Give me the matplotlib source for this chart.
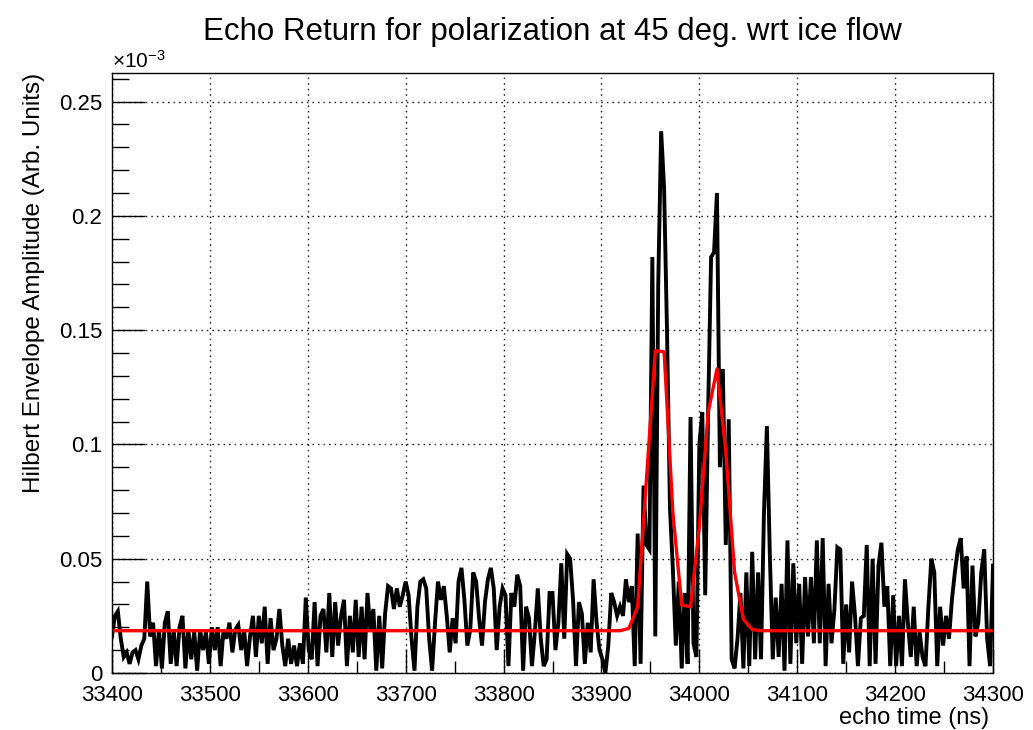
import numpy as np
import matplotlib.pyplot as plt
from matplotlib.ticker import MultipleLocator, FuncFormatter

plt.rcParams['font.family'] = ['Liberation Sans', 'DejaVu Sans']
plt.rcParams['mathtext.fontset'] = 'custom'
plt.rcParams['mathtext.rm'] = 'Liberation Sans'

# Hilbert envelope samples (units of 1e-3), one every 3 ns from 33400 ns
t_start = 33400
t_step = 3
amp = [
    0.016, 0.025, 0.027, 0.015, 0.007, 0.009, 0.004, 0.009, 0.010, 0.006,
    0.012, 0.015, 0.040, 0.016, 0.022, 0.003, 0.019, 0.002, 0.022, 0.027,
    0.004, 0.019, 0.003, 0.020, 0.025, 0.002, 0.019, 0.006, 0.018, 0.001,
    0.019, 0.010, 0.018, 0.004, 0.020, 0.010, 0.020, 0.003, 0.019, 0.015,
    0.022, 0.009, 0.019, 0.021, 0.010, 0.019, 0.003, 0.016, 0.025, 0.007,
    0.025, 0.013, 0.029, 0.004, 0.024, 0.010, 0.015, 0.028, 0.012, 0.003,
    0.015, 0.004, 0.012, 0.003, 0.013, 0.004, 0.033, 0.010, 0.006, 0.031,
    0.003, 0.025, 0.028, 0.009, 0.035, 0.007, 0.031, 0.012, 0.025, 0.032,
    0.003, 0.025, 0.009, 0.032, 0.007, 0.029, 0.006, 0.035, 0.018, 0.028,
    0.001, 0.025, 0.002, 0.026, 0.038, 0.037, 0.028, 0.037, 0.029, 0.034,
    0.040, 0.034, 0.015, 0.001, 0.029, 0.040, 0.041, 0.037, 0.015, 0.001,
    0.022, 0.040, 0.032, 0.038, 0.025, 0.009, 0.024, 0.013, 0.040, 0.046,
    0.032, 0.012, 0.019, 0.044, 0.040, 0.024, 0.012, 0.031, 0.041, 0.046,
    0.037, 0.010, 0.029, 0.037, 0.034, 0.003, 0.035, 0.029, 0.043, 0.038,
    0.001, 0.029, 0.024, 0.003, 0.018, 0.037, 0.015, 0.003, 0.006, 0.035,
    0.035, 0.010, 0.022, 0.048, 0.015, 0.052, 0.050, 0.032, 0.003, 0.031,
    0.026, 0.004, 0.022, 0.009, 0.041, 0.022, 0.010, 0.006, 0.000, 0.012,
    0.035, 0.031, 0.025, 0.029, 0.025, 0.041, 0.031, 0.038, 0.003, 0.061,
    0.004, 0.082, 0.056, 0.054, 0.182, 0.016, 0.170, 0.237, 0.212, 0.149,
    0.072, 0.045, 0.012, 0.040, 0.002, 0.035, 0.004, 0.112, 0.013, 0.007,
    0.100, 0.114, 0.034, 0.115, 0.182, 0.184, 0.210, 0.090, 0.133, 0.056,
    0.111, 0.006, 0.002, 0.015, 0.035, 0.002, 0.044, 0.003, 0.053, 0.006,
    0.044, 0.006, 0.070, 0.108, 0.052, 0.006, 0.033, 0.007, 0.039, 0.001,
    0.058, 0.004, 0.048, 0.013, 0.039, 0.004, 0.042, 0.016, 0.042, 0.013,
    0.058, 0.013, 0.059, 0.003, 0.039, 0.013, 0.028, 0.055, 0.054, 0.004,
    0.030, 0.009, 0.040, 0.025, 0.003, 0.024, 0.025, 0.056, 0.003, 0.050,
    0.004, 0.047, 0.057, 0.029, 0.038, 0.003, 0.034, 0.003, 0.025, 0.003,
    0.041, 0.022, 0.007, 0.029, 0.003, 0.018, 0.007, 0.003, 0.029, 0.050,
    0.044, 0.003, 0.029, 0.012, 0.025, 0.015, 0.032, 0.044, 0.054, 0.059,
    0.037, 0.051, 0.003, 0.047, 0.016, 0.022, 0.044, 0.054, 0.015, 0.003,
    0.047,
]
time = t_start + t_step * np.arange(len(amp))

# fitted curve (two gaussians on a flat level), vertices
fit_t = [33400, 33919, 33928, 33937, 33946, 33955, 33964, 33973, 33982, 33991,
         34000, 34009, 34018, 34027, 34036, 34045, 34054, 34063, 34300]
fit_amp = [0.0185, 0.0185, 0.0195, 0.029, 0.085, 0.141, 0.1405, 0.070, 0.0297, 0.029,
           0.064, 0.114, 0.133, 0.097, 0.044, 0.0235, 0.019, 0.0185, 0.0185]

fig = plt.figure(figsize=(10.33, 7.3), dpi=100)
ax = fig.add_axes([0.1084, 0.0781, 0.8529, 0.8219])

ax.plot(time, amp, color='black', lw=2.8, solid_joinstyle='miter')
ax.plot(fit_t, fit_amp, color='red', lw=2.4)

ax.set_xlim(33400, 34300)
ax.set_ylim(0, 0.2625)
ax.xaxis.set_major_locator(MultipleLocator(100))
ax.xaxis.set_minor_locator(MultipleLocator(50))
ax.yaxis.set_major_locator(MultipleLocator(0.05))
ax.yaxis.set_minor_locator(MultipleLocator(0.01))
ax.yaxis.set_major_formatter(FuncFormatter(lambda v, p: '%g' % round(v, 3)))

ax.tick_params(axis='both', which='both', direction='in', labelsize=16, width=1)
ax.tick_params(axis='y', which='major', length=24, pad=7)
ax.tick_params(axis='y', which='minor', length=12)
ax.tick_params(axis='x', which='major', length=17, pad=9)
ax.tick_params(axis='x', which='minor', length=9)

ax.grid(True, which='major', color='black', ls=(0, (1, 3)), lw=1)
for s in ax.spines.values():
    s.set_linewidth(1)

ax.set_title('Echo Return for polarization at 45 deg. wrt ice flow', fontsize=22.5, pad=24)
ax.set_ylabel('Hilbert Envelope Amplitude (Arb. Units)', loc='top', fontsize=17.5, labelpad=10)
fig.text(0.958, 0.017, 'echo time (ns)', fontsize=17, ha='right', va='center')
fig.text(0.1084, 0.902, r'$\mathregular{\times10^{-3}}$', fontsize=15, ha='left', va='bottom')

fig.savefig('out.png')
